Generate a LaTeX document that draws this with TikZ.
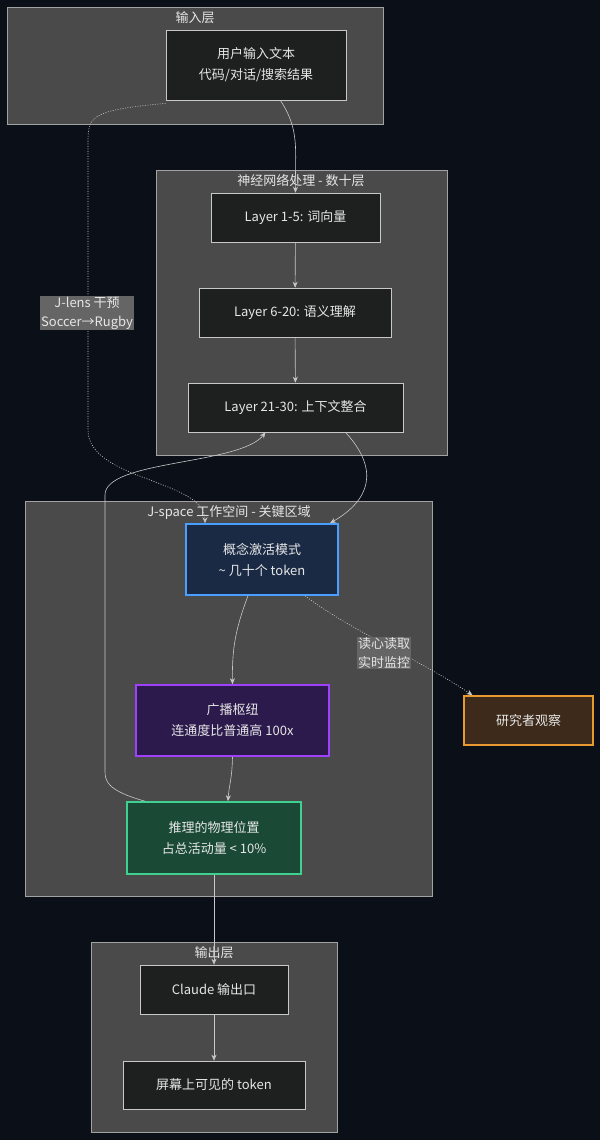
\documentclass[tikz,border=0pt]{standalone}
\usepackage{fontspec}
\setmainfont{Noto Sans CJK SC}
\usetikzlibrary{arrows.meta}
\definecolor{bg}{HTML}{0B0F17}
\definecolor{clu}{HTML}{4A4A4A}
\definecolor{nd}{HTML}{1E1F1F}
\definecolor{ln}{HTML}{C8C8C8}
\definecolor{txt}{HTML}{E6E6E6}
\definecolor{cfill}{HTML}{1A2A45}\definecolor{cline}{HTML}{4A9EFF}
\definecolor{hfill}{HTML}{2D1A4D}\definecolor{hline}{HTML}{A040FF}
\definecolor{rfill}{HTML}{1A4A35}\definecolor{rline}{HTML}{40D090}
\definecolor{ofill}{HTML}{3D2A1A}\definecolor{oline}{HTML}{E89A30}
\tikzset{
 x=1pt,y=-1pt,
 clu/.style={draw=ln!70!clu,fill=clu,line width=0.6pt},
 ttl/.style={text=txt,font=\fontsize{13}{15}\selectfont,inner sep=1pt},
 box/.style={draw=ln,fill=nd,text=txt,line width=0.6pt,align=center,font=\fontsize{13}{21}\selectfont,inner sep=0pt},
 hl/.style={line width=1.6pt},
 ar/.style={draw=ln,line width=0.6pt,-{Stealth[length=6pt,width=5pt]}},
 dt/.style={ar,dash pattern=on 1pt off 1.5pt},
 lbl/.style={fill=clu!85!white,text=txt,align=center,font=\fontsize{13}{19}\selectfont,inner sep=1pt}
}
\begin{document}
\begin{tikzpicture}
\useasboundingbox (0,0) rectangle (600,1140);
\fill[bg] (0,0) rectangle (600,1140);
\draw[clu] (7,7) rectangle (383,124);
\node[ttl] (t1) at (195,18) {输入层};
\draw[clu] (156,170) rectangle (447,455);
\node[ttl] (t2) at (301,181) {神经网络处理 - 数十层};
\draw[clu] (25,501) rectangle (432,896);
\node[ttl] (t3) at (229,512) {J-space 工作空间 - 关键区域};
\draw[clu] (91,942) rectangle (337,1132);
\node[ttl] (t4) at (214,953) {输出层};

\node[box,minimum width=180,minimum height=70] (in) at (256,65) {用户输入文本\\代码/对话/搜索结果};
\node[box,minimum width=169,minimum height=49] (l1) at (295.5,217.5) {Layer 1-5: 词向量};
\node[box,minimum width=192,minimum height=49] (l6) at (295,312.5) {Layer 6-20: 语义理解};
\node[box,minimum width=215,minimum height=49] (l21) at (295.5,407.5) {Layer 21-30: 上下文整合};
\node[box,hl,fill=cfill,draw=cline,minimum width=152,minimum height=71] (con) at (262,559.5) {概念激活模式\\\textasciitilde\ 几十个 token};
\node[box,hl,fill=hfill,draw=hline,minimum width=193,minimum height=71] (hub) at (232.5,720.5) {广播枢纽\\连通度比普通高 100x};
\node[box,hl,fill=rfill,draw=rline,minimum width=174,minimum height=72] (rea) at (214,838) {推理的物理位置\\占总活动量 < 10\%};
\node[box,hl,fill=ofill,draw=oline,minimum width=129,minimum height=49] (res) at (528.5,720.5) {研究者观察};
\node[box,minimum width=148,minimum height=49] (cl) at (214,989.5) {Claude 输出口};
\node[box,minimum width=182,minimum height=48] (sc) at (214,1085) {屏幕上可见的 token};

\draw[ar] (in.south east) ++(-66,0) coordinate (a1) .. controls (300,130) and (295,150) .. (l1.north);
\draw[ar] (l1) -- (l6);
\draw[ar] (l6) -- (l21);
\draw[ar] ([xshift=50]l21.south) .. controls (380,470) and (370,500) .. ([xshift=68]con.north);
\draw[ar] ([xshift=-14]con.south) .. controls (235,630) and (232,650) .. (hub.north);
\draw[ar] (hub.south) .. controls (232,780) and (229,785) .. ([xshift=14]rea.north);
\draw[ar] (rea) -- (cl);
\draw[ar] (cl) -- (sc);
\draw[ar] ([xshift=-69]rea.north) .. controls (105,790) and (105,780) .. (105,770) -- (105,495) .. controls (105,460) and (240,465) .. ([xshift=-30]l21.south);
\draw[dt] ([yshift=-3]in.south west) .. controls (95,110) and (88,115) .. (88,140) -- (88,430) .. controls (88,480) and (205,480) .. ([xshift=-57]con.north);
\node[lbl] (lb1) at (87,313) {J-lens 干预\\Soccer→Rugby};
\draw[dt] ([xshift=43]con.south) .. controls (350,630) and (420,660) .. ([xshift=-56]res.north);
\node[lbl] (lb2) at (384,653) {读心读取\\实时监控};
\end{tikzpicture}
\end{document}
